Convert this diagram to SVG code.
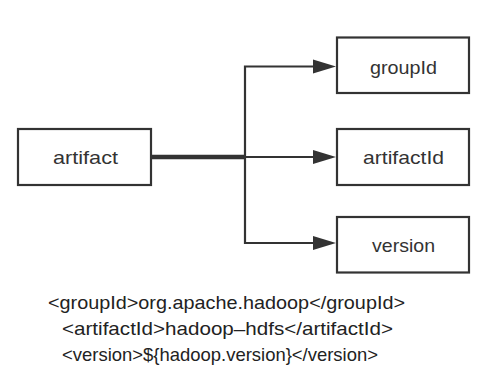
<svg xmlns="http://www.w3.org/2000/svg" width="498" height="374" viewBox="0 0 498 374">
  <style>
    .box { fill: #ffffff; stroke: #333333; stroke-width: 2.2; }
    .label { font-family: "Liberation Sans", Arial, sans-serif; font-size: 19px; fill: #333333; text-anchor: middle; }
    .code { font-family: "Liberation Sans", Arial, sans-serif; font-size: 19px; fill: #222222; }
    .wire { fill: none; stroke: #333333; stroke-width: 2.2; }
    .trunk { fill: none; stroke: #333333; stroke-width: 4.5; }
    .head { fill: #333333; }
  </style>
  <rect width="498" height="374" fill="#ffffff"/>

  <!-- connectors -->
  <g id="connectors">
    <path class="trunk" d="M152 157 H245"/>
    <path class="wire" d="M245 157 H320"/>
    <path class="wire" d="M320 66.5 H245 V243 H320"/>
    <polygon class="head" points="313,59.5 336,66.5 313,73.5"/>
    <polygon class="head" points="313,150 336,157 313,164"/>
    <polygon class="head" points="313,236 336,243 313,250"/>
  </g>

  <g id="artifact">
    <rect class="box" x="18" y="129" width="133" height="56"/>
    <text class="label" x="85.5" y="164" textLength="65" lengthAdjust="spacingAndGlyphs">artifact</text>
  </g>
  <g id="groupId">
    <rect class="box" x="337" y="37.5" width="132" height="55.5"/>
    <text class="label" x="403.5" y="74" textLength="67" lengthAdjust="spacingAndGlyphs">groupId</text>
  </g>
  <g id="artifactId">
    <rect class="box" x="337" y="129" width="132" height="56"/>
    <text class="label" x="403.5" y="164" textLength="81" lengthAdjust="spacingAndGlyphs">artifactId</text>
  </g>
  <g id="version">
    <rect class="box" x="337" y="217" width="132" height="55.5"/>
    <text class="label" x="403.5" y="252" textLength="63" lengthAdjust="spacingAndGlyphs">version</text>
  </g>

  <g id="snippet">
    <text class="code" x="48" y="309" textLength="357" lengthAdjust="spacingAndGlyphs">&lt;groupId&gt;org.apache.hadoop&lt;/groupId&gt;</text>
    <text class="code" x="62" y="335" textLength="331" lengthAdjust="spacingAndGlyphs">&lt;artifactId&gt;hadoop–hdfs&lt;/artifactId&gt;</text>
    <text class="code" x="62" y="361" textLength="316" lengthAdjust="spacingAndGlyphs">&lt;version&gt;${hadoop.version}&lt;/version&gt;</text>
  </g>
</svg>
